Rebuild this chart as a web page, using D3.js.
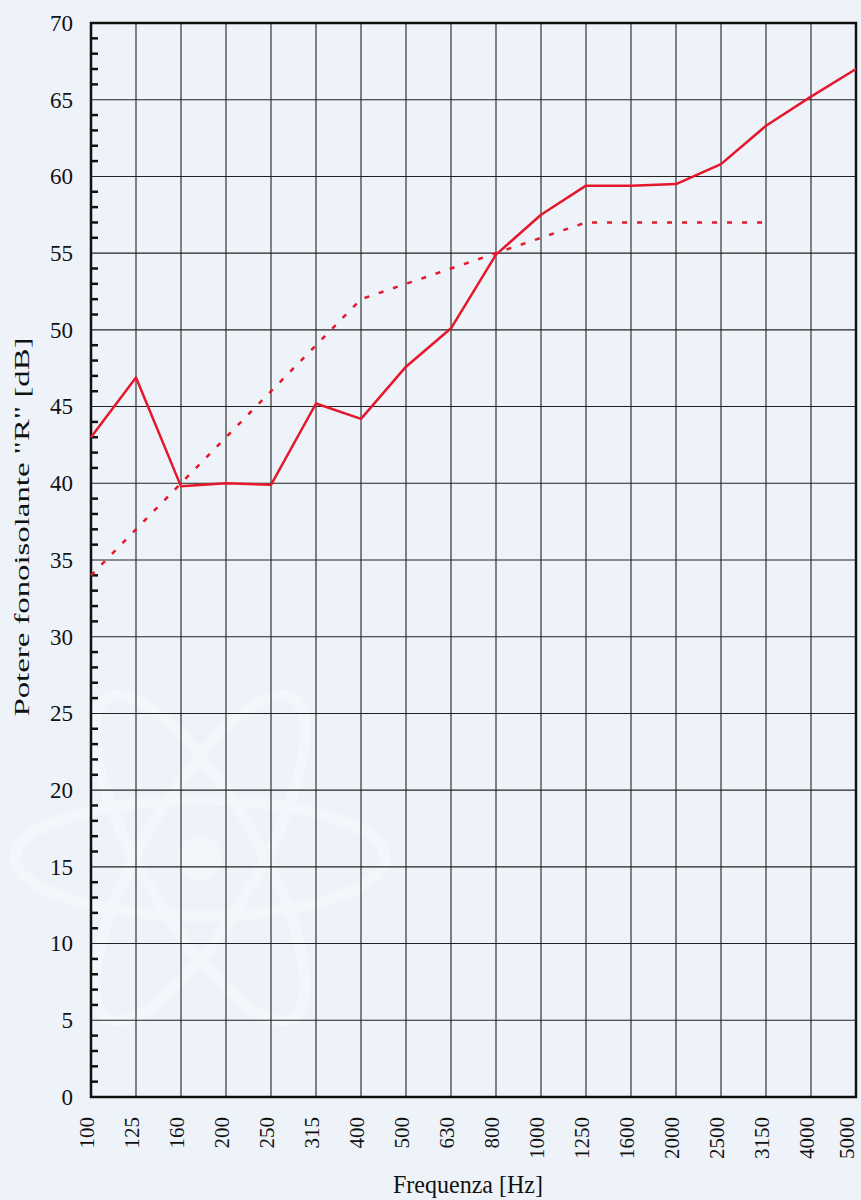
<!DOCTYPE html>
<html>
<head>
<meta charset="utf-8">
<script src="https://cdn.jsdelivr.net/npm/d3@7"></script>
<style>
  body { margin: 0; background: #eef3fa; }
  svg { display: block; }
  text { font-family: "Liberation Serif", "Times New Roman", serif; fill: #111; }
</style>
</head>
<body>
<svg id="chart" width="861" height="1200"></svg>
<script>
// Frequencies (Hz), one-third octave bands
const freqs = ["100", "125", "160", "200", "250", "315", "400", "500", "630",
    "800", "1000", "1250", "1600", "2000", "2500", "3150", "4000", "5000"];

// Measured R' (solid line)
const measured = [43.0, 46.9, 39.8, 40.0, 39.9, 45.2, 44.2, 47.6, 50.1,
    54.9, 57.5, 59.4, 59.4, 59.5, 60.8, 63.3, 65.2, 67.0];

// Shifted reference curve (dotted), 100..3150 Hz
const reference = [34, 37, 40, 43, 46, 49, 52, 53, 54, 55, 56, 57, 57, 57, 57, 57];

const yTicks = d3.range(0, 71, 5);

const W = 861, H = 1200;
const m = {top: 23, right: 5, bottom: 103, left: 91};

const svg = d3.select("#chart");

const x = d3.scalePoint().domain(freqs).range([m.left, W - m.right]);
const y = d3.scaleLinear().domain([0, 70]).range([H - m.bottom, m.top]);

// faint watermark logo behind the grid
const wm = svg.append("g").attr("transform", "translate(200,858)")
    .attr("fill", "none").attr("stroke", "#ffffff").attr("stroke-width", 11).attr("opacity", 0.35);
[0, 60, -60].forEach(a => {
    wm.append("ellipse").attr("rx", 185).attr("ry", 58).attr("transform", `rotate(${a})`);
});
wm.append("circle").attr("r", 22).attr("fill", "#ffffff").attr("stroke", "none");

// grid
const grid = svg.append("g").attr("stroke", "#222").attr("stroke-width", 1.1);
grid.selectAll(".vg").data(freqs).join("line")
    .attr("x1", d => x(d)).attr("x2", d => x(d))
    .attr("y1", y(0)).attr("y2", y(70));
grid.selectAll(".hg").data(yTicks).join("line")
    .attr("x1", x(freqs[0])).attr("x2", x(freqs[freqs.length - 1]))
    .attr("y1", d => y(d)).attr("y2", d => y(d));

// minor ticks on y axis
svg.append("g").attr("stroke", "#111").attr("stroke-width", 2.5)
    .selectAll("line").data(d3.range(0, 70, 1).filter(v => v % 5 !== 0)).join("line")
    .attr("x1", m.left).attr("x2", m.left + 7)
    .attr("y1", d => y(d)).attr("y2", d => y(d));

// frame
svg.append("rect")
    .attr("x", m.left).attr("y", m.top)
    .attr("width", W - m.right - m.left).attr("height", y(0) - m.top)
    .attr("fill", "none").attr("stroke", "#111").attr("stroke-width", 2.5);

// y axis labels
const yAxis = d3.axisLeft(y).tickValues(yTicks).tickSize(0).tickPadding(18);
const gy = svg.append("g").attr("transform", `translate(${m.left},0)`).call(yAxis);
gy.select(".domain").remove();
gy.selectAll("text").attr("font-size", 23)
    .style("font-family", "'Liberation Serif', serif").attr("fill", "#111");

// x axis labels (rotated)
const gx = svg.append("g");
gx.selectAll("text").data(freqs).join("text")
    .attr("transform", d => `translate(${Math.min(x(d) + 3, W - 7)},${y(0) + 20}) rotate(-90)`)
    .attr("text-anchor", "end")
    .attr("font-size", 21)
    .text(d => d);

// axis titles
svg.append("text")
    .attr("x", 468).attr("y", 1193)
    .attr("text-anchor", "middle").attr("font-size", 25)
    .attr("textLength", 150).attr("lengthAdjust", "spacingAndGlyphs")
    .text("Frequenza [Hz]");
svg.append("text")
    .attr("transform", "translate(29,527) rotate(-90)")
    .attr("text-anchor", "middle").attr("font-size", 22)
    .attr("textLength", 379).attr("lengthAdjust", "spacingAndGlyphs")
    .text("Potere fonoisolante \"R\" [dB]");

// lines
const line = d3.line().x(d => x(d[0])).y(d => y(d[1]));

svg.append("path")
    .datum(reference.map((v, i) => [freqs[i], v]))
    .attr("d", line)
    .attr("fill", "none").attr("stroke", "#e5172b")
    .attr("stroke-width", 2.5).attr("stroke-dasharray", "5 10");

svg.append("path")
    .datum(measured.map((v, i) => [freqs[i], v]))
    .attr("d", line)
    .attr("fill", "none").attr("stroke", "#e5172b")
    .attr("stroke-width", 2.5).attr("stroke-linejoin", "round");
</script>
</body>
</html>
